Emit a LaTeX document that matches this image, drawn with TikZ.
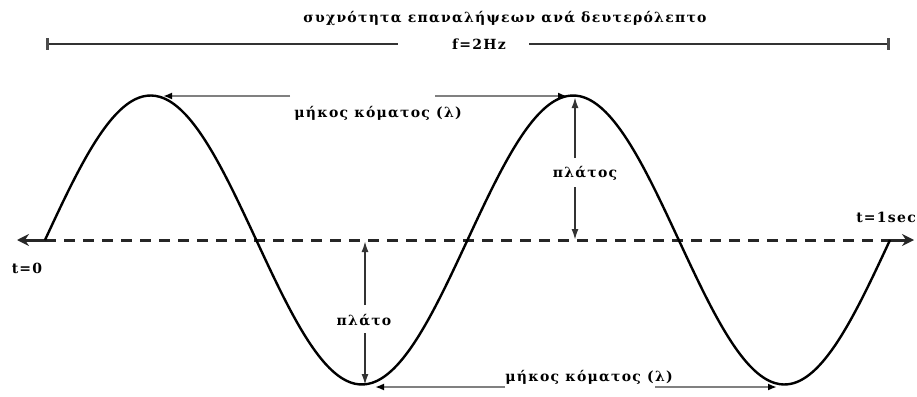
\documentclass[tikz,border=0pt]{standalone}
\usepackage{fontspec}
\setmainfont{DejaVu Serif}
\newfontfamily\lblfont[LetterSpace=9]{DejaVu Serif}
\usetikzlibrary{arrows.meta}

\begin{document}
\begin{tikzpicture}[x=1pt,y=-1pt,line join=round,
  lbl/.style={font=\lblfont\bfseries\fontsize{14}{16}\selectfont,inner sep=0pt},
  wave/.style={line width=2.4pt},
  lam/.style={line width=2.2pt,draw=black!50,-{Latex[length=9pt,width=7pt,color=black]}},
  amp/.style={line width=1.8pt,draw=black!80,-{Latex[length=11pt,width=7pt]}},
  axis/.style={line width=3pt,draw=black!85,dash pattern=on 11pt off 8pt},
  axtip/.style={line width=3pt,draw=black!85,-{Stealth[length=12pt,width=12pt,inset=4pt]}},
  brace/.style={line width=2pt,draw=black!80},
  tick/.style={line width=3pt,draw=black!70}]
  \useasboundingbox (0,0) rectangle (917,396);
  % points on the wave
  \coordinate (o1) at (45,240);
  \coordinate (o2) at (890,240);
  \coordinate (p1) at (150.6,95.5);
  \coordinate (p2) at (573.1,95.5);
  \coordinate (tr1) at (361.9,384.5);
  \coordinate (tr2) at (784.4,384.5);
  % axis
  \draw[axis] (o1) -- (o2);
  \draw[axtip] (o1) -- (17,240);
  \draw[axtip] (o2) -- (914,240);
  \node[lbl] (tstart) at (27,268) {t=0};
  \node[lbl,anchor=east] (tend) at (916,217) {t=1sec};
  % wave
  \draw[wave] plot[domain=0:845,samples=200,smooth] ({45+\x},{240-144.5*sin(\x/422.5*360)});
  % frequency bracket
  \node[lbl] (title) at (505,18) {συχνότητα επαναλήψεων ανά δευτερόλεπτο};
  \node[lbl] (freq) at (479,44) {f=2Hz};
  \coordinate (bl) at (47,44);
  \coordinate (br) at (888,44);
  \draw[brace] (bl) -- (398,44);
  \draw[brace] (529,44) -- (br);
  \draw[tick] ([yshift=-6pt]bl) -- ([yshift=6pt]bl);
  \draw[tick] ([yshift=-6pt]br) -- ([yshift=6pt]br);
  % wavelength, top
  \node[lbl] (lamtop) at (378,113) {μήκος κόματος (λ)};
  \draw[lam] (290,96) -- (163,96);
  \draw[lam] (435,96) -- (567,96);
  % wavelength, bottom
  \node[lbl] (lambot) at (589,377) {μήκος κόματος (λ)};
  \draw[lam] (505,387) -- (375,387);
  \draw[lam] (655,387) -- (777,387);
  % amplitude
  \node[lbl] (ampr) at (585,173) {πλάτος};
  \draw[amp] (575,158) -- (575,97);
  \draw[amp] (575,187) -- (575,240);
  \node[lbl] (ampl) at (364,320) {πλάτο};
  \draw[amp] (365,305) -- (365,241);
  \draw[amp] (365,333) -- (365,385);
\end{tikzpicture}
\end{document}
